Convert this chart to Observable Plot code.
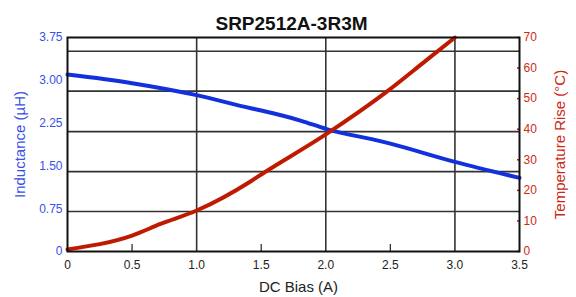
<!DOCTYPE html>
<html><head><meta charset="utf-8">
<script src="https://cdn.jsdelivr.net/npm/d3@7"></script>
<script src="https://cdn.jsdelivr.net/npm/@observablehq/plot@0.6"></script>
<style>body{margin:0;background:#fff}</style>
</head><body><div id="chart"></div>
<script>
const title = "SRP2512A-3R3M";
const xLabel = "DC Bias (A)";
const leftLabel = "Inductance (µH)";
const rightLabel = "Temperature Rise (°C)";

// Inductance vs DC bias
const biasInd = [0, 0.5, 1.0, 1.42, 1.5, 1.81, 2.0, 2.43, 2.5, 3.0, 3.5];
const inductance = [3.10, 2.95, 2.74, 2.51, 2.47, 2.29, 2.15, 1.93, 1.89, 1.57, 1.29];

// Temperature rise vs DC bias
const biasTemp = [0, 0.5, 0.72, 1.0, 1.42, 1.5, 2.0, 2.47, 2.78, 3.0];
const tempRise = [0.7, 5.2, 9.0, 13.4, 23.0, 25.2, 38.3, 52.2, 62.6, 70];

const xTicks = [0, 0.5, 1.0, 1.5, 2.0, 2.5, 3.0, 3.5];
const xTickLabels = ["0", "0.5", "1.0", "1.5", "2.0", "2.5", "3.0", "3.5"];
const minorX = [0.5, 1.5, 2.5];
const gridX = [1, 2, 3];
const indTicks = [0, 0.75, 1.5, 2.25, 3.0, 3.75];
const indTickLabels = ["0", "0.75", "1.50", "2.25", "3.00", "3.75"];
const gridY = [0.70, 1.40, 2.10, 2.81, 3.51];
const tempTicks = [0, 10, 20, 30, 40, 50, 60, 70];
const indMax = 3.75, tempMax = 70, xMax = 3.5;

const toInd = t => t * indMax / tempMax;
const blue = "#1230dc", blueText = "#3a50e6", red = "#bf1a00", redText = "#cc2a16";
const font = "'Liberation Sans', Arial, sans-serif";

const indData = biasInd.map((x, i) => ({x, y: inductance[i]}));
const tempData = biasTemp.map((x, i) => ({x, y: toInd(tempRise[i])}));

const chart = Plot.plot({
  width: 576, height: 297,
  marginLeft: 67, marginRight: 57, marginTop: 37, marginBottom: 46,
  style: {fontFamily: font, fontSize: "12px", background: "#fff"},
  x: {domain: [0, xMax]},
  y: {domain: [0, indMax]},
  marks: [
    Plot.ruleX(gridX, {stroke: "#333", strokeWidth: 1.6}),
    Plot.ruleY(gridY, {stroke: "#333", strokeWidth: 1.6}),
    Plot.axisX({ticks: minorX, tickSize: 7, insetBottom: 7, tickFormat: () => "", label: null, stroke: "#333", strokeWidth: 1.3}),
    Plot.axisX({ticks: xTicks, tickSize: 0, tickPadding: 9, tickFormat: d => xTickLabels[xTicks.indexOf(d)], label: null, fill: "#222"}),
    Plot.axisY({ticks: indTicks, tickSize: 0, tickPadding: 5, tickFormat: d => indTickLabels[indTicks.indexOf(d)], label: null, fill: blueText}),
    Plot.axisY({anchor: "right", ticks: tempTicks.map(toInd), tickSize: 3, insetRight: 3, tickPadding: 4,
      tickFormat: d => String(Math.round(d * tempMax / indMax)), label: null, fill: redText, stroke: red, strokeWidth: 1.5}),
    Plot.line(indData, {x: "x", y: "y", stroke: blue, strokeWidth: 4, curve: "monotone-x"}),
    Plot.line(tempData, {x: "x", y: "y", stroke: red, strokeWidth: 4, curve: "monotone-x"}),
    Plot.frame({stroke: "#111", strokeWidth: 2}),
    Plot.text([title], {frameAnchor: "top", lineAnchor: "middle", textAnchor: "middle", dy: -14, dx: -2, fontWeight: "bold", fontSize: 19, fill: "#111"}),
    Plot.text([leftLabel], {frameAnchor: "left", lineAnchor: "middle", textAnchor: "middle", dx: -47, rotate: -90, fontSize: 15, fill: blueText}),
    Plot.text([rightLabel], {frameAnchor: "right", lineAnchor: "middle", textAnchor: "middle", dx: 41, rotate: -90, fontSize: 15, fill: redText}),
    Plot.text([xLabel], {frameAnchor: "bottom", lineAnchor: "middle", textAnchor: "middle", dy: 36, dx: 5, fontSize: 15, fill: "#222"})
  ]
});
document.getElementById("chart").append(chart);
</script>
</body></html>
